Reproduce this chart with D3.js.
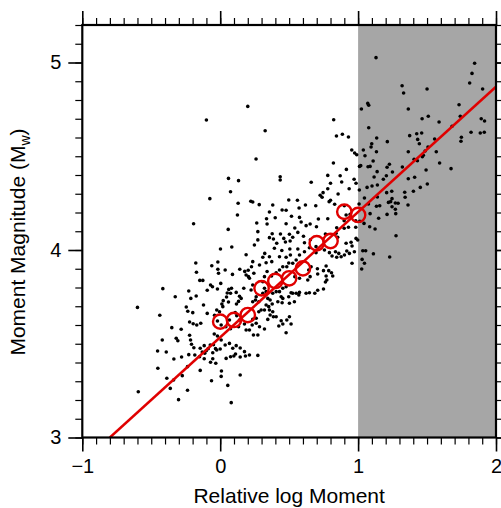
<!DOCTYPE html>
<html>
<head>
<meta charset="utf-8">
<script src="https://cdn.jsdelivr.net/npm/d3@7/dist/d3.min.js"></script>
<style>
  body { margin: 0; background: #fff; }
  text { font-family: "Liberation Sans", Arial, Helvetica, sans-serif; fill: #000; }
</style>
</head>
<body>
<div id="chart"></div>
<script>
// tick values and shaded band
var xMajor = [-1, 0, 1, 2];
var yMajor = [3, 4, 5];
var shadeX = [1, 2];

// binned means (red circles)
var binX = [0.0, 0.1, 0.2, 0.3, 0.4, 0.5, 0.6, 0.7, 0.8, 0.9, 1.0];
var binY = [3.618, 3.627, 3.653, 3.796, 3.835, 3.849, 3.902, 4.036, 4.048, 4.204, 4.187];

// fitted line end points
var fitX = [-0.8, 2.0];
var fitY = [3.0, 4.871];

// individual events, [relative log moment, Mw]
var events = [
  [0.20,4.766],[-0.10,4.693],[0.06,4.382],[0.133,4.37],[0.075,4.311],[-0.075,4.274],[0.13,4.249],[0.125,4.187],[-0.193,4.14],[0.058,4.11],
  [0.326,4.636],[0.26,4.485],[0.823,4.695],[0.843,4.608],[0.886,4.617],[0.93,4.603],[0.821,4.464],[0.954,4.533],[0.975,4.517],[0.99,4.508],
  [0.915,4.43],[0.435,4.391],[0.435,4.373],[0.66,4.361],[0.78,4.398],[0.87,4.396],[0.881,4.363],[0.80,4.356],[0.78,4.327],[0.935,4.327],
  [0.971,4.377],[0.985,4.356],[0.746,4.306],[0.725,4.292],[0.739,4.281],[0.855,4.299],[0.79,4.258],[0.80,4.265],[0.83,4.244],[0.693,4.236],
  [0.618,4.24],[0.56,4.265],[0.497,4.267],[0.572,4.224],[0.381,4.24],[0.283,4.242],[0.236,4.256],[0.222,4.26],[0.449,4.213],[0.478,4.212],
  [0.357,4.203],[0.517,4.18],[0.575,4.174],[0.399,4.172],[0.336,4.167],[0.265,4.144],[0.34,4.139],[0.478,4.14],[0.587,4.149],[0.623,4.13],
  [0.652,4.139],[0.712,4.165],[0.78,4.167],[0.698,4.124],[0.541,4.117],[1.007,4.245],[1.024,4.752],[1.07,4.782],[1.077,4.772],[1.038,4.533],
  [1.05,4.503],[1.01,4.446],[1.019,4.45],[1.077,4.652],[1.065,4.334],[1.046,4.277],[1.009,4.32],[1.072,4.444],[1.075,4.245],[0.90,4.236],
  [0.913,4.187],[0.942,4.19],[0.983,4.156],[1.012,4.153],[0.983,4.121],[0.93,4.121],[0.899,4.116],[0.845,4.119],[0.899,4.156],[1.043,4.142],
  [1.13,5.026],[1.845,4.996],[1.826,4.942],[1.809,4.891],[1.903,4.859],[1.319,4.876],[1.33,4.837],[1.5,4.859],[1.364,4.752],[1.732,4.775],
  [1.741,4.713],[1.464,4.7],[1.509,4.713],[1.587,4.683],[1.893,4.7],[1.917,4.688],[1.819,4.628],[1.886,4.624],[1.915,4.628],[1.749,4.601],
  [1.746,4.58],[1.681,4.66],[1.374,4.61],[1.425,4.62],[1.461,4.624],[1.432,4.59],[1.444,4.567],[1.555,4.592],[1.507,4.549],[1.486,4.528],
  [1.473,4.505],[1.466,4.498],[1.364,4.524],[1.567,4.524],[1.406,4.484],[1.43,4.476],[1.591,4.464],[1.321,4.443],[1.493,4.427],[1.674,4.434],
  [1.364,4.38],[1.41,4.388],[1.502,4.352],[1.451,4.334],[1.338,4.308],[1.341,4.281],[1.401,4.313],[1.362,4.24],[1.27,4.251],[1.29,4.249],
  [1.27,4.217],[1.273,4.194],[1.212,4.578],[1.135,4.597],[1.133,4.524],[1.099,4.567],[1.094,4.549],[1.109,4.475],[1.087,4.446],[1.138,4.418],
  [1.116,4.389],[1.101,4.341],[1.14,4.347],[1.183,4.377],[1.205,4.396],[1.21,4.441],[1.227,4.457],[1.249,4.416],[1.207,4.306],[1.22,4.254],
  [1.244,4.313],[1.246,4.274],[1.236,4.258],[1.14,4.283],[1.133,4.233],[1.157,4.236],[1.149,4.169],[1.21,4.19],[1.246,4.231],[1.087,4.194],
  [1.084,4.124],[1.123,4.112],[1.275,4.076],[1.111,3.98],[1.229,3.963],
  [0.002,4.005],[0.084,4.016],[0.188,3.975],[-0.177,3.931],[-0.061,3.916],[-0.017,3.936],[-0.172,3.881],[-0.017,3.897],[-0.012,3.876],[0.036,3.893],
  [0.089,3.87],[0.142,3.897],[0.178,3.886],[0.203,3.892],[0.188,3.867],[0.205,3.858],[-0.148,3.838],[-0.126,3.838],[-0.07,3.813],[-0.056,3.804],
  [0.004,3.822],[-0.02,3.792],[-0.094,3.785],[-0.416,3.794],[-0.228,3.781],[-0.326,3.751],[-0.213,3.742],[-0.174,3.755],[0.062,3.79],[0.082,3.796],
  [0.051,3.771],[0.075,3.769],[0.046,3.749],[0.022,3.73],[0.06,3.723],[0.012,3.712],[0.116,3.774],[0.14,3.753],[0.133,3.726],[0.118,3.712],
  [0.171,3.796],[0.152,3.742],[-0.6,3.694],[-0.438,3.652],[-0.246,3.696],[-0.235,3.673],[-0.199,3.666],[-0.222,3.616],[-0.196,3.607],[-0.17,3.6],
  [-0.141,3.609],[-0.121,3.707],[-0.094,3.662],[-0.025,3.68],[-0.005,3.671],[0.019,3.698],[-0.041,3.652],[-0.02,3.621],[0.007,3.6],[0.041,3.591],
  [0.067,3.627],[0.075,3.58],[0.109,3.666],[0.12,3.65],[0.14,3.627],[0.176,3.605],[0.188,3.573],[0.133,3.591],[-0.351,3.586],[-0.283,3.577],
  [-0.319,3.529],[-0.307,3.516],[-0.42,3.52],[-0.454,3.461],[-0.391,3.456],[-0.222,3.545],[-0.215,3.52],[-0.208,3.497],[-0.191,3.479],[-0.145,3.476],
  [-0.116,3.49],[-0.13,3.456],[-0.101,3.463],[-0.072,3.493],[-0.087,3.474],[-0.049,3.495],[-0.034,3.474],[-0.054,3.452],[-0.025,3.467],[0,3.472],
  [0.036,3.493],[0.067,3.502],[0.007,3.52],[-0.043,3.552],[-0.02,3.541],[0.091,3.476],[0.116,3.49],[0.145,3.477],[0.111,3.445],[0.075,3.431],
  [0.043,3.422],[0.099,3.435],[0.176,3.458],[0.145,3.429],[0.183,3.435],[-0.28,3.429],[-0.336,3.419],[-0.228,3.442],[-0.184,3.44],[-0.15,3.431],
  [-0.112,3.449],[-0.054,3.42],[-0.07,3.401],[-0.032,3.396],[-0.116,3.42],[-0.452,3.369],[-0.237,3.378],[-0.145,3.358],[-0.338,3.307],[-0.275,3.33],
  [0.009,3.355],[0.007,3.326],[-0.063,3.303],[0.145,3.333],[0.055,3.278],[-0.362,3.262],[-0.237,3.252],[-0.594,3.244],[-0.302,3.202],[0.08,3.186],
  [-0.387,3.316],
  [0.248,4.027],[0.273,4.054],[0.273,4.098],[0.357,4.066],[0.377,4.087],[0.386,4.059],[0.437,4.085],[0.461,4.062],[0.473,4.043],[0.410,4.036],
  [0.502,4.084],[0.507,4.048],[0.526,4.068],[0.563,4.094],[0.604,4.073],[0.611,4.039],[0.654,4.055],[0.647,4.012],[0.505,4.005],[0.563,4.005],
  [0.447,3.997],[0.393,4.009],[0.323,3.982],[0.309,3.961],[0.357,3.964],[0.236,3.938],[0.227,3.911],[0.244,3.876],[0.212,3.849],[0.285,3.92],
  [0.333,3.932],[0.374,3.938],[0.430,3.964],[0.478,3.961],[0.497,3.931],[0.526,3.929],[0.551,3.947],[0.454,3.911],[0.483,3.911],[0.430,3.893],
  [0.406,3.879],[0.372,3.861],[0.321,3.858],[0.340,3.885],[0.309,3.831],[0.509,3.973],[0.575,3.973],[0.611,3.991],[0.695,4.018],[0.695,3.986],
  [0.756,4.0],[0.792,3.986],[0.836,3.991],[0.860,3.982],[0.763,4.085],[0.840,4.089],[0.852,4.068],[0.913,4.036],[0.949,4.041],[0.985,4.062],
  [0.997,4.053],[0.956,4.021],[0.918,3.995],[0.901,3.973],[0.877,3.964],[0.811,3.968],[0.845,3.961],[0.768,3.915],[0.749,3.89],[0.787,3.89],
  [0.768,3.861],[0.807,3.879],[0.816,3.861],[0.705,3.9],[0.707,3.872],[0.659,3.911],[0.642,3.893],[0.652,3.858],[0.635,3.84],[0.575,3.849],
  [0.541,3.858],[0.575,3.774],[0.570,3.76],[0.647,3.772],[0.686,3.769],[0.749,3.792],[0.707,3.785],[0.773,3.84],[0.763,3.829],[0.937,3.982],
  [0.956,3.929],[0.973,3.991],[1.034,3.996],[1.055,3.996],[1.029,3.95],[1.046,3.929],[1.026,3.899],
  [0.236,3.813],[0.224,3.787],[0.261,3.751],[0.256,3.733],[0.236,3.724],[0.280,3.724],[0.309,3.769],[0.333,3.778],[0.321,3.796],[0.345,3.742],
  [0.362,3.733],[0.381,3.769],[0.406,3.778],[0.430,3.778],[0.454,3.796],[0.478,3.804],[0.442,3.751],[0.454,3.742],[0.497,3.751],[0.514,3.772],
  [0.526,3.769],[0.551,3.769],[0.538,3.724],[0.502,3.716],[0.449,3.719],[0.418,3.724],[0.377,3.712],[0.352,3.698],[0.333,3.707],[0.321,3.68],
  [0.357,3.68],[0.381,3.671],[0.362,3.653],[0.386,3.644],[0.345,3.630],[0.280,3.671],[0.261,3.636],[0.236,3.630],[0.232,3.6],[0.261,3.609],
  [0.285,3.591],[0.321,3.579],[0.212,3.573],[0.241,3.547],[0.273,3.547],[0.406,3.644],[0.442,3.623],[0.454,3.605],[0.483,3.627],[0.502,3.644],
  [0.514,3.605],[0.425,3.595],[0.478,3.559],[0.212,3.44],[0.273,3.438],[0.297,3.68],[0.623,3.769]
];

var W = 501, H = 508;
var x = d3.scaleLinear().domain([-1, 2]).range([82.3, 496]);
var y = d3.scaleLinear().domain([3, 5.2]).range([437.5, 25]);
var red = "#e00000";

var svg = d3.select("#chart").append("svg").attr("width", W).attr("height", H);

svg.append("clipPath").attr("id", "plotclip").append("rect")
  .attr("x", x.range()[0]).attr("y", y.range()[1])
  .attr("width", x.range()[1] - x.range()[0]).attr("height", y.range()[0] - y.range()[1]);

// gray band
svg.append("rect")
  .attr("x", x(shadeX[0])).attr("y", y.range()[1])
  .attr("width", x(shadeX[1]) - x(shadeX[0])).attr("height", y.range()[0] - y.range()[1])
  .attr("fill", "#a6a6a6");

var plot = svg.append("g").attr("clip-path", "url(#plotclip)");

plot.selectAll(".ev").data(events).enter().append("circle")
  .attr("class", "ev")
  .attr("cx", function(d) { return x(d[0]); })
  .attr("cy", function(d) { return y(d[1]); })
  .attr("r", 1.8)
  .attr("fill", "#000");

plot.append("path")
  .datum(d3.zip(fitX, fitY))
  .attr("d", d3.line().x(function(d) { return x(d[0]); }).y(function(d) { return y(d[1]); }))
  .attr("stroke", red).attr("stroke-width", 2.5).attr("fill", "none");

plot.selectAll(".bin").data(d3.zip(binX, binY)).enter().append("circle")
  .attr("class", "bin")
  .attr("cx", function(d) { return x(d[0]); })
  .attr("cy", function(d) { return y(d[1]); })
  .attr("r", 7.2)
  .attr("fill", "none").attr("stroke", red).attr("stroke-width", 2.4);

// axes: minor + major ticks on all four sides
var xMinor = d3.range(-10, 21).map(function(i) { return i / 10; });
var yMinor = d3.range(30, 53).map(function(i) { return i / 10; });
var fmt = d3.format("d");

function ticks(makeAxis, scale, tx, ty, minorVals, majorVals, labels) {
  var g = svg.append("g").attr("transform", "translate(" + tx + "," + ty + ")");
  g.append("g").call(makeAxis(scale).tickValues(minorVals).tickSize(7).tickFormat(""))
    .selectAll("line").attr("stroke-width", 1.2);
  var mg = g.append("g").call(makeAxis(scale).tickValues(majorVals).tickSize(14).tickPadding(7)
    .tickFormat(labels ? fmt : ""));
  mg.selectAll("line").attr("stroke-width", 1.6);
  g.selectAll(".domain").remove();
  g.selectAll("text").style("font-size", "20px").style("font-family", '"Liberation Sans", Arial, sans-serif');
  return g;
}

ticks(d3.axisBottom, x, 0, y.range()[0], xMinor, xMajor, true);
ticks(d3.axisTop, x, 0, y.range()[1], xMinor, xMajor, false);
ticks(d3.axisLeft, y, x.range()[0], 0, yMinor, yMajor, true);
ticks(d3.axisRight, y, x.range()[1], 0, yMinor, yMajor, false);

// frame
svg.append("rect")
  .attr("x", x.range()[0]).attr("y", y.range()[1])
  .attr("width", x.range()[1] - x.range()[0]).attr("height", y.range()[0] - y.range()[1])
  .attr("fill", "none").attr("stroke", "#000").attr("stroke-width", 2.2);

// axis titles
svg.append("text")
  .attr("x", (x.range()[0] + x.range()[1]) / 2).attr("y", 503)
  .attr("text-anchor", "middle").style("font-size", "21px")
  .text("Relative log Moment");

var yl = svg.append("text")
  .attr("transform", "translate(25,242) rotate(-90)")
  .attr("text-anchor", "middle").style("font-size", "21px");
yl.append("tspan").text("Moment Magnitude (M");
yl.append("tspan").attr("dy", 5).style("font-size", "14px").text("w");
yl.append("tspan").attr("dy", -5).text(")");
</script>
</body>
</html>
